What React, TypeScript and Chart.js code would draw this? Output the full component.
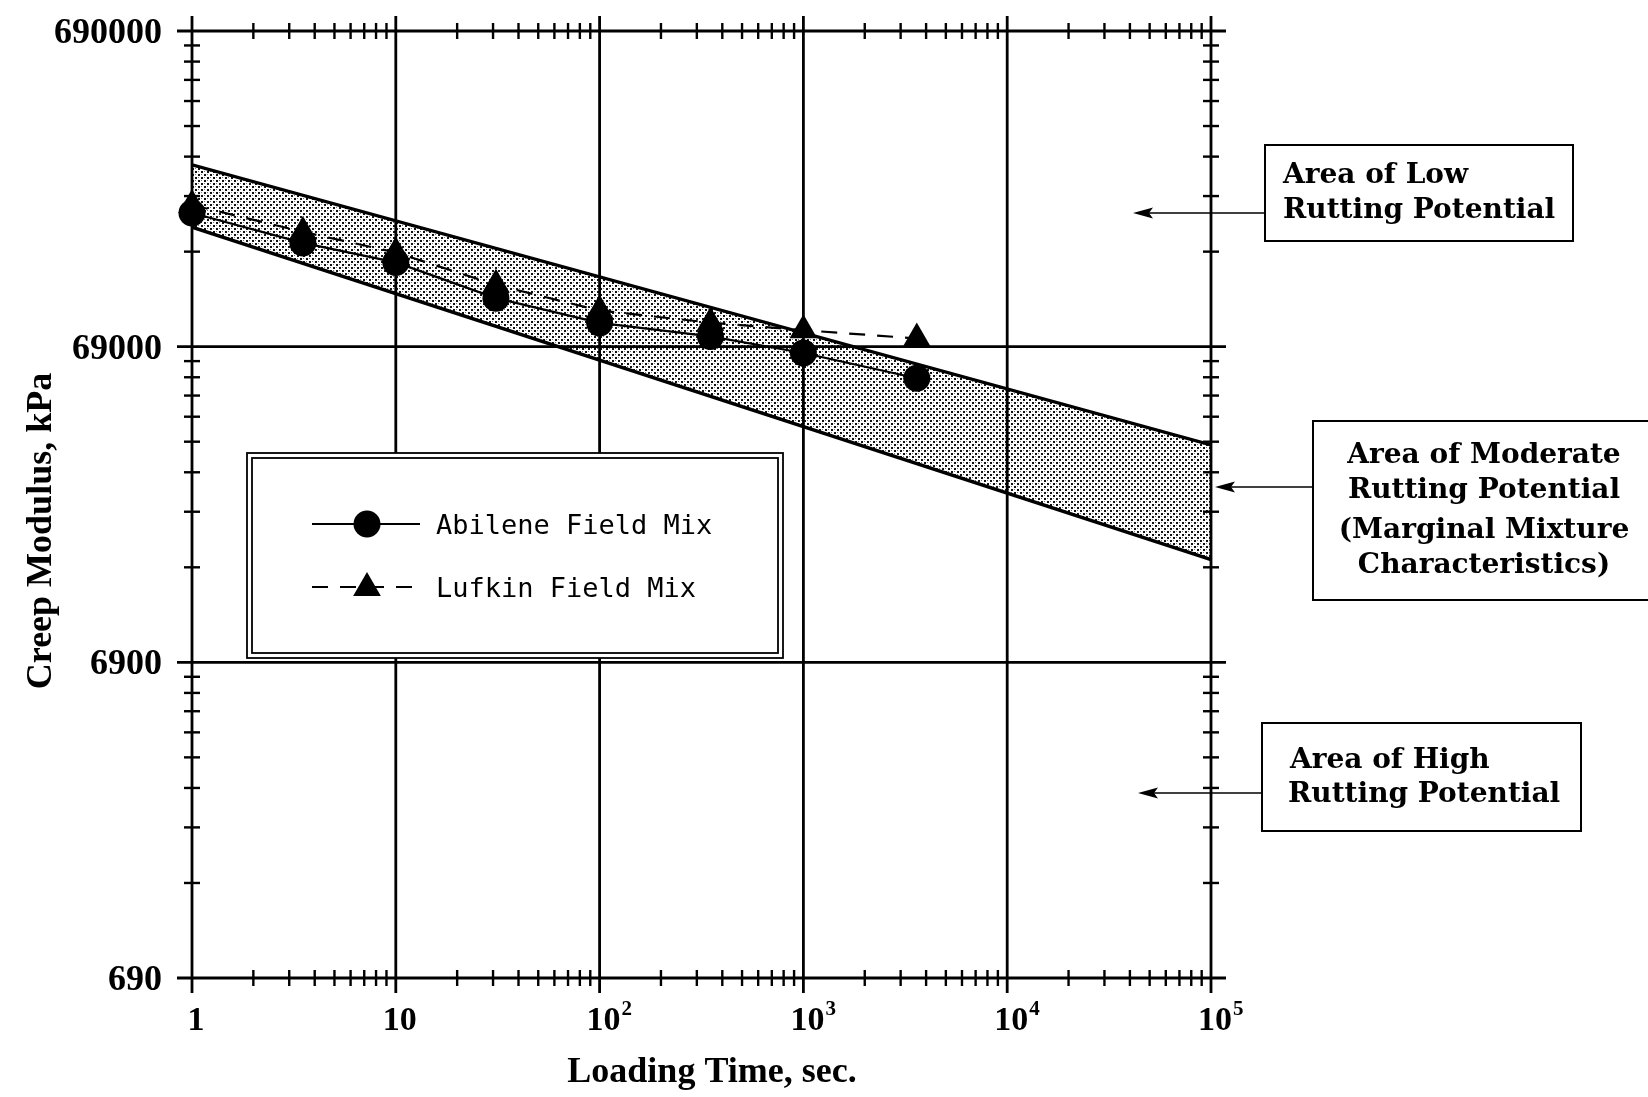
import React, { useEffect, useRef } from 'react';
import { Chart, registerables } from 'chart.js';

Chart.register(...registerables);

// ---------- data ----------
const loadingTimes = [1, 3.5, 10, 31, 100, 350, 1000, 3600];
const abileneModulus = [182900, 147100, 127600, 98300, 82100, 74350, 65900, 54800];
const lufkinModulus = [194000, 159400, 137200, 108300, 89800, 82200, 77800, 73240];

const bandTimes = [1, 100000];
const bandUpper = [260000, 33700];
const bandLower = [165000, 14600];

const xMajorTicks = [1, 10, 100, 1000, 10000, 100000];
const xTickBase = ['1', '10', '10', '10', '10', '10'];
const xTickSup = ['', '', '2', '3', '4', '5'];
const yMajorTicks = [690, 6900, 69000, 690000];
const yTickLabels = ['690', '6900', '69000', '690000'];
const minorMultipliers = [2, 3, 4, 5, 6, 7, 8, 9];

const seriesLabels = ['Abilene Field Mix', 'Lufkin Field Mix'];
const xTitle = 'Loading Time, sec.';
const yTitle = 'Creep Modulus, kPa';
const lowLines = ['Area of Low', 'Rutting Potential'];
const moderateLines = ['Area of Moderate', 'Rutting Potential', '(Marginal Mixture', 'Characteristics)'];
const highLines = ['Area of High', 'Rutting Potential'];

// ---------- layout / style ----------
const W = 1648;
const H = 1097;
const AREA = { left: 192, right: 1211, top: 31, bottom: 978 };
const SERIF = '"Liberation Serif", "Times New Roman", serif';
const SLAB = '"DejaVu Serif", serif';
const MONO = '"DejaVu Sans Mono", monospace';

function seg(ctx: CanvasRenderingContext2D, x1: number, y1: number, x2: number, y2: number) {
  ctx.beginPath();
  ctx.moveTo(x1, y1);
  ctx.lineTo(x2, y2);
  ctx.stroke();
}

function arrowLeft(ctx: CanvasRenderingContext2D, xFrom: number, xTip: number, y: number) {
  ctx.lineWidth = 1.6;
  seg(ctx, xFrom, y, xTip + 10, y);
  ctx.beginPath();
  ctx.moveTo(xTip, y);
  ctx.lineTo(xTip + 20, y - 5.5);
  ctx.lineTo(xTip + 16, y);
  ctx.lineTo(xTip + 20, y + 5.5);
  ctx.closePath();
  ctx.fill();
}

function drawMarker(ctx: CanvasRenderingContext2D, style: string, x: number, y: number, r: number) {
  ctx.beginPath();
  if (style === 'triangle') {
    const k = Math.sin(Math.PI / 3) * r;
    ctx.moveTo(x, y - r);
    ctx.lineTo(x + k, y + r / 2);
    ctx.lineTo(x - k, y + r / 2);
    ctx.closePath();
  } else {
    ctx.arc(x, y, r, 0, Math.PI * 2);
  }
  ctx.fill();
}

const decorPlugin = {
  id: 'decor',
  afterDatasetsDraw(chart: any) {
    const ctx: CanvasRenderingContext2D = chart.ctx;
    const a = chart.chartArea;
    const xs = chart.scales.x;
    const ys = chart.scales.y;
    ctx.save();
    ctx.strokeStyle = '#000';
    ctx.fillStyle = '#000';
    ctx.lineCap = 'butt';

    // major grid lines (extending slightly beyond the frame)
    ctx.lineWidth = 2.8;
    xMajorTicks.forEach((v) => {
      const p = xs.getPixelForValue(v);
      seg(ctx, p, a.top - 15, p, a.bottom + 15);
    });
    yMajorTicks.forEach((v) => {
      const p = ys.getPixelForValue(v);
      seg(ctx, a.left - 15, p, a.right + 15, p);
    });

    // minor ticks crossing the frame
    ctx.lineWidth = 2.4;
    xMajorTicks.slice(0, -1).forEach((d) =>
      minorMultipliers.forEach((m) => {
        const p = xs.getPixelForValue(d * m);
        seg(ctx, p, a.top - 8, p, a.top + 8);
        seg(ctx, p, a.bottom - 8, p, a.bottom + 8);
      })
    );
    yMajorTicks.slice(0, -1).forEach((d) =>
      minorMultipliers.forEach((m) => {
        const p = ys.getPixelForValue(d * m);
        seg(ctx, a.left - 8, p, a.left + 8, p);
        seg(ctx, a.right - 8, p, a.right + 8, p);
      })
    );

    // legend box (double border, white)
    const L = { x1: 247, y1: 453, x2: 783, y2: 658 };
    ctx.fillStyle = '#fff';
    ctx.fillRect(L.x1, L.y1, L.x2 - L.x1, L.y2 - L.y1);
    ctx.fillStyle = '#000';
    ctx.lineWidth = 1.8;
    ctx.strokeRect(L.x1, L.y1, L.x2 - L.x1, L.y2 - L.y1);
    ctx.strokeRect(L.x1 + 5, L.y1 + 5, L.x2 - L.x1 - 10, L.y2 - L.y1 - 10);

    const rows = [524, 587];
    [2, 3].forEach((di, i) => {
      const ds = chart.data.datasets[di];
      const y = rows[i];
      ctx.lineWidth = ds.borderWidth;
      ctx.setLineDash(ds.borderDash || []);
      seg(ctx, 312, y, 420, y);
      ctx.setLineDash([]);
      drawMarker(ctx, ds.pointStyle, 367, ds.pointStyle === 'triangle' ? y + 1 : y, ds.pointRadius);
      ctx.font = `27px ${MONO}`;
      ctx.textAlign = 'left';
      ctx.textBaseline = 'alphabetic';
      ctx.fillText(ds.label, 436, y + 10);
    });

    // annotation boxes + arrows
    ctx.lineWidth = 2;
    ctx.strokeRect(1265, 145, 1573 - 1265, 241 - 145);
    ctx.strokeRect(1313, 421, 1700 - 1313, 600 - 421);
    ctx.strokeRect(1262, 723, 1581 - 1262, 831 - 723);
    arrowLeft(ctx, 1265, 1133, 213);
    arrowLeft(ctx, 1313, 1215, 487);
    arrowLeft(ctx, 1262, 1138, 793);

    ctx.font = `bold 28px ${SLAB}`;
    ctx.textBaseline = 'alphabetic';
    ctx.textAlign = 'left';
    ctx.fillText(lowLines[0], 1283, 183);
    ctx.fillText(lowLines[1], 1283, 218);
    ctx.fillText(highLines[0], 1290, 768);
    ctx.fillText(highLines[1], 1288, 802);
    ctx.textAlign = 'center';
    const modBase = [463, 498, 538, 573];
    moderateLines.forEach((t, i) => ctx.fillText(t, 1484, modBase[i]));

    // y tick labels
    ctx.font = `bold 36px ${SERIF}`;
    ctx.textAlign = 'right';
    yMajorTicks.forEach((v, i) => {
      const p = ys.getPixelForValue(v);
      ctx.fillText(yTickLabels[i], 162, p + 12);
    });

    // x tick labels with superscripts
    xMajorTicks.forEach((v, i) => {
      const p = xs.getPixelForValue(v) + 4;
      ctx.font = `bold 34px ${SERIF}`;
      ctx.textAlign = 'center';
      ctx.fillText(xTickBase[i], p, 1030);
      if (xTickSup[i]) {
        const w = ctx.measureText(xTickBase[i]).width;
        ctx.font = `bold 21px ${SERIF}`;
        ctx.textAlign = 'left';
        ctx.fillText(xTickSup[i], p + w / 2 + 1, 1015);
      }
    });

    // axis titles
    ctx.font = `bold 36px ${SERIF}`;
    ctx.textAlign = 'center';
    ctx.fillText(xTitle, 712, 1082);
    ctx.save();
    ctx.translate(51, 531);
    ctx.rotate(-Math.PI / 2);
    ctx.fillText(yTitle, 0, 0);
    ctx.restore();

    ctx.restore();
  },
};

export default function App() {
  const canvasRef = useRef<HTMLCanvasElement | null>(null);

  useEffect(() => {
    const canvas = canvasRef.current;
    if (!canvas) return;
    const ctx = canvas.getContext('2d');
    if (!ctx) return;

    // stippled pattern for the shaded band
    const tile = document.createElement('canvas');
    tile.width = 6;
    tile.height = 6;
    const tg = tile.getContext('2d')!;
    tg.fillStyle = '#111';
    tg.fillRect(0, 0, 2, 2);
    tg.fillRect(3, 3, 2, 2);
    tg.fillStyle = '#777';
    tg.fillRect(0, 3, 1, 1);
    tg.fillRect(3, 0, 1, 1);
    const pattern = ctx.createPattern(tile, 'repeat');

    const toPts = (xs: number[], ys: number[]) => xs.map((x, i) => ({ x, y: ys[i] }));

    const chart = new Chart(canvas, {
      type: 'line',
      data: {
        datasets: [
          {
            label: 'Upper limit',
            data: toPts(bandTimes, bandUpper),
            borderColor: '#000',
            borderWidth: 3.4,
            pointRadius: 0,
            fill: '+1',
            backgroundColor: pattern as any,
            order: 5,
          },
          {
            label: 'Lower limit',
            data: toPts(bandTimes, bandLower),
            borderColor: '#000',
            borderWidth: 3.4,
            pointRadius: 0,
            fill: false,
            order: 4,
          },
          {
            label: seriesLabels[0],
            data: toPts(loadingTimes, abileneModulus),
            borderColor: '#000',
            borderWidth: 2.2,
            pointStyle: 'circle',
            pointRadius: 13.5,
            pointBackgroundColor: '#000',
            pointBorderColor: '#000',
            pointBorderWidth: 0,
            fill: false,
            clip: false as any,
            order: 2,
          },
          {
            label: seriesLabels[1],
            data: toPts(loadingTimes, lufkinModulus),
            borderColor: '#000',
            borderWidth: 2.2,
            borderDash: [16, 12],
            pointStyle: 'triangle',
            pointRadius: 16,
            pointBackgroundColor: '#000',
            pointBorderColor: '#000',
            pointBorderWidth: 0,
            fill: false,
            clip: false as any,
            order: 1,
          },
        ],
      },
      options: {
        responsive: false,
        animation: false,
        events: [],
        layout: {
          padding: { left: AREA.left, right: W - AREA.right, top: AREA.top, bottom: H - AREA.bottom },
        },
        elements: { line: { tension: 0 } },
        scales: {
          x: { type: 'logarithmic', min: 1, max: 100000, display: false },
          y: { type: 'logarithmic', min: 690, max: 690000, display: false },
        },
        plugins: {
          legend: { display: false },
          tooltip: { enabled: false },
        },
      },
      plugins: [decorPlugin as any],
    });

    return () => chart.destroy();
  }, []);

  return (
    <div style={{ position: 'absolute', left: 0, top: 0, width: W, height: H, background: '#fff' }}>
      <canvas ref={canvasRef} width={W} height={H} style={{ display: 'block', width: W, height: H }} />
    </div>
  );
}
